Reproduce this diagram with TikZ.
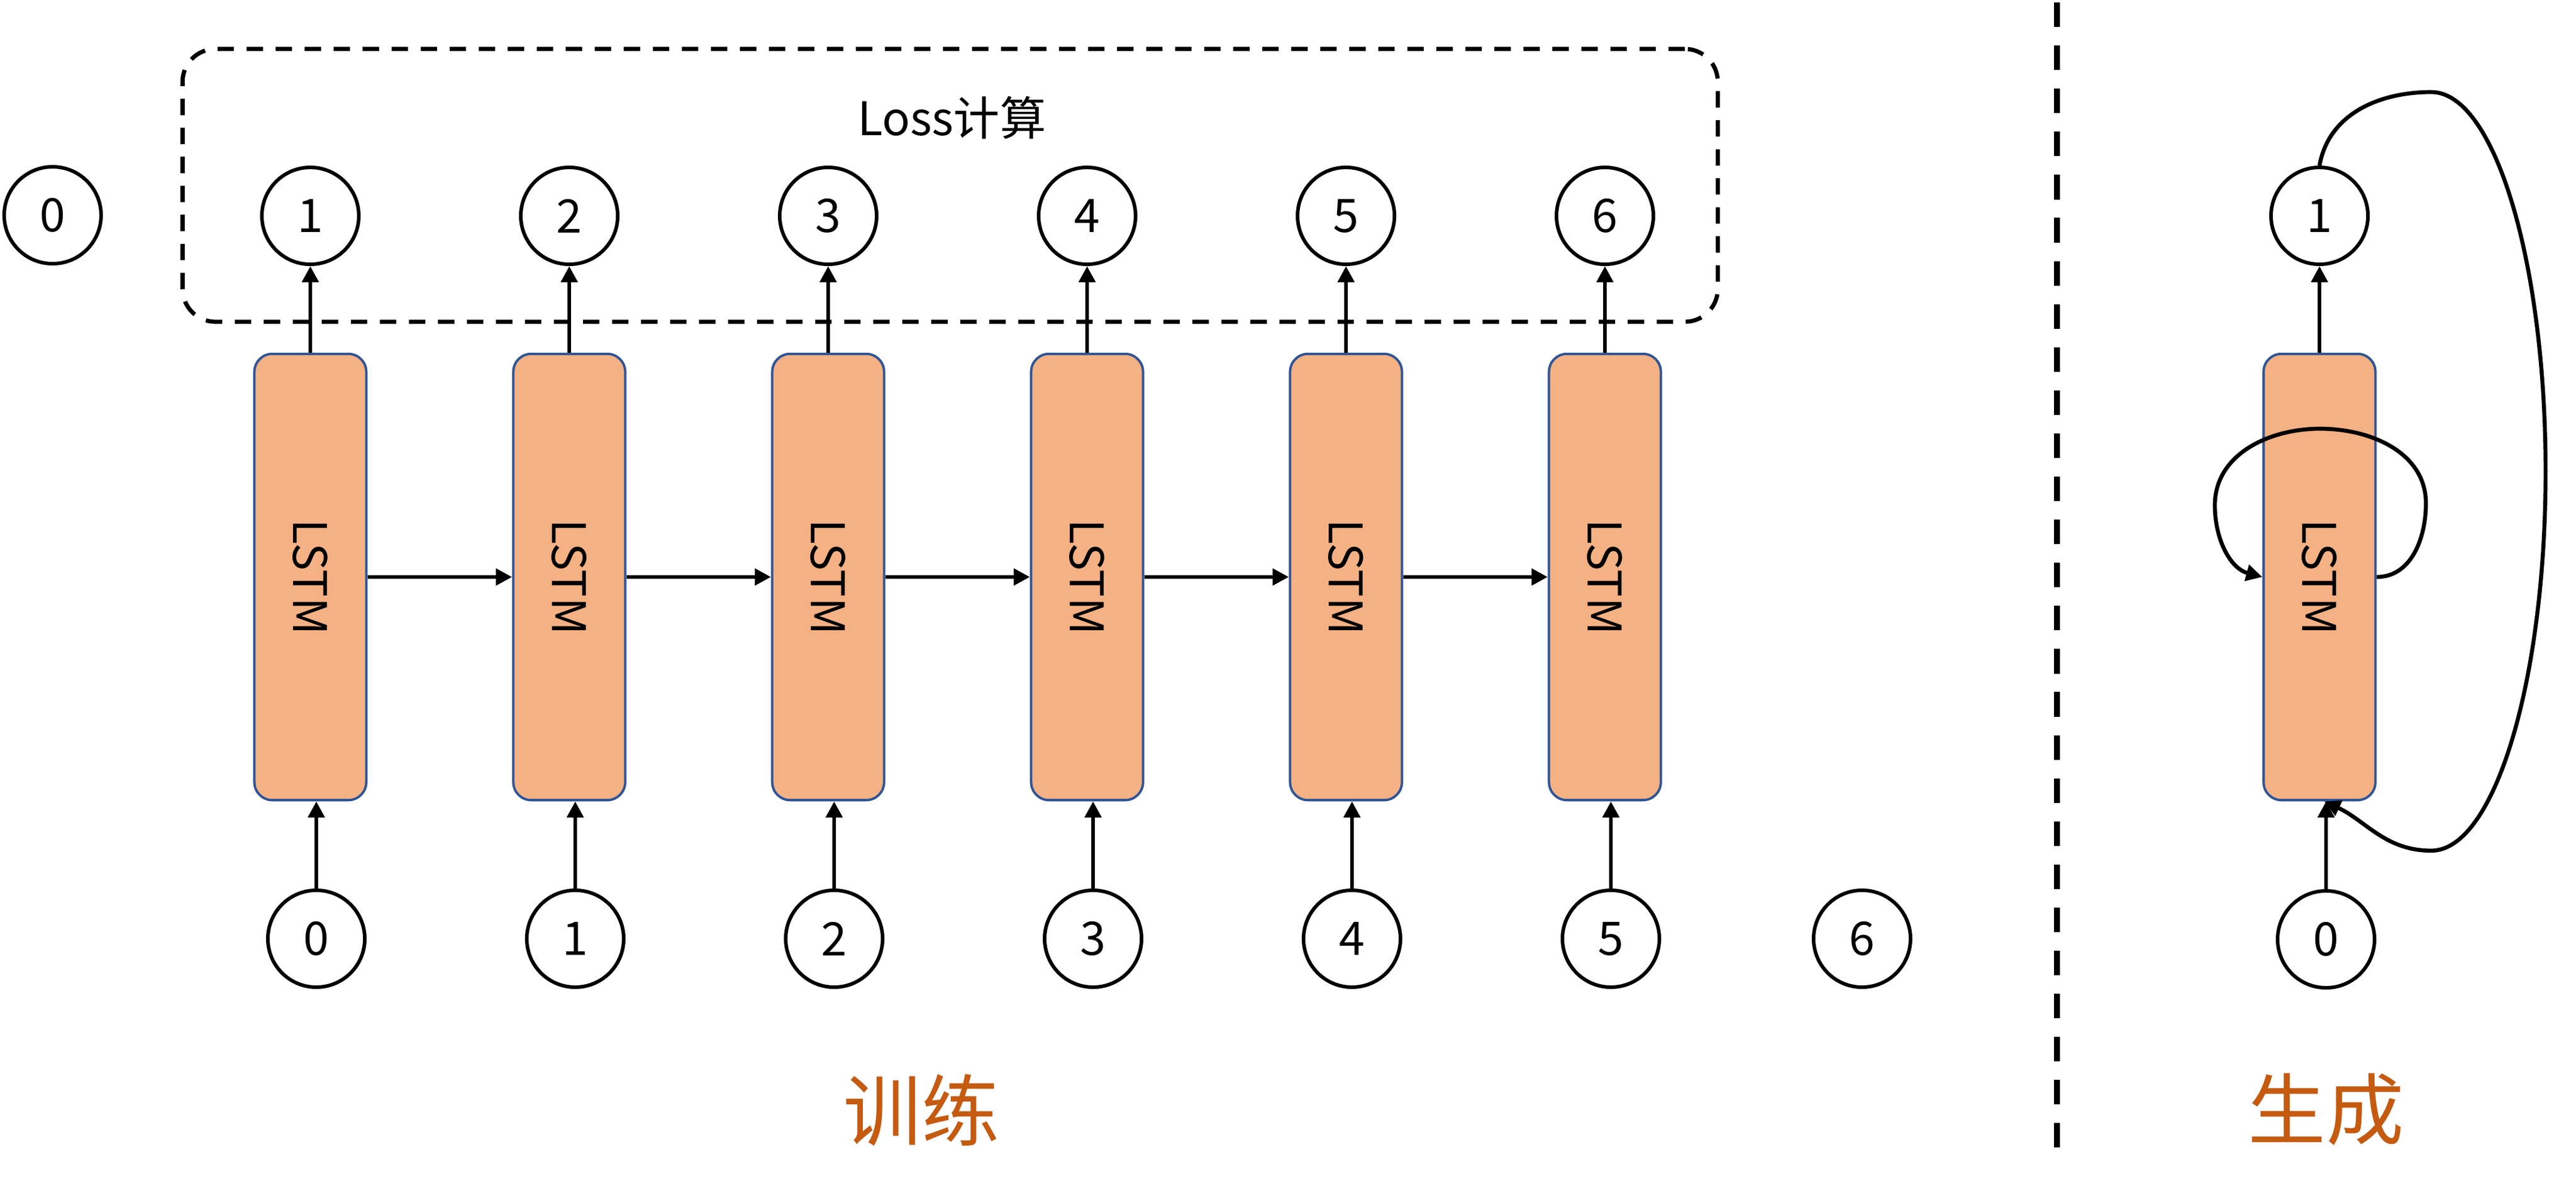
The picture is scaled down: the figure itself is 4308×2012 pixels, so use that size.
\documentclass[tikz,border=0pt]{standalone}
\usepackage{fontspec}
\usepackage{graphicx}
\setmainfont{Noto Sans CJK SC}
\usetikzlibrary{arrows.meta}
\definecolor{lstmfill}{HTML}{F4B183}
\definecolor{lstmline}{HTML}{2F5597}
\definecolor{capcolor}{HTML}{C55A11}
\begin{document}
\begin{tikzpicture}[x=0.01cm,y=0.01cm,
  tok/.style={circle,draw=black,line width=1.7pt,minimum size=1.62cm,inner sep=0pt,font=\fontsize{22}{26}\selectfont},
  lstm/.style={draw=lstmline,fill=lstmfill,line width=1.15pt,rounded corners=0.3cm,minimum width=1.87cm,minimum height=7.46cm,inner sep=0pt,font=\fontsize{22}{26}\selectfont},
  conn/.style={line width=1.9pt,-{Triangle[length=0.27cm,width=0.27cm]}},
  lossframe/.style={draw=black,line width=2pt,dash pattern=on 7.8pt off 6pt,rounded corners=0.55cm,minimum width=25.66cm,minimum height=4.56cm,inner sep=0pt},
  sepline/.style={line width=2.85pt,dash pattern=on 11.7pt off 8.8pt},
  caption/.style={text=capcolor,font=\fontsize{37}{40}\selectfont,inner sep=0pt},
  plaintext/.style={font=\fontsize{22}{26}\selectfont,inner sep=0pt},
]
\useasboundingbox (0,0) rectangle (4308,-2012);

% ---------- training part ----------
\node[lossframe] (lossbox) at (1589,-310) {};
\node[plaintext] (losslabel) at (1592,-197) {Loss计算};

\node[tok] (z0) at (88,-360) {0};

\foreach \i in {1,...,6} {
  \pgfmathsetmacro{\xa}{519+433*(\i-1)}
  \pgfmathsetmacro{\xb}{529+433*(\i-1)}
  \pgfmathtruncatemacro{\j}{\i-1}
  \node[lstm] (L\i) at (\xa,-965) {\rotatebox{-90}{LSTM}};
  \node[tok] (o\i) at (\xa,-361) {\i};
  \node[tok] (in\i) at (\xb,-1570) {\j};
}
\node[tok] (s6) at (3114,-1570) {6};

\foreach \i in {1,...,6} {
  \draw[conn] (L\i.north) -- (o\i.south);
  \draw[conn] (in\i.north) -- (in\i.north |- L\i.south);
}
\foreach \i/\j in {1/2,2/3,3/4,4/5,5/6}
  \draw[conn] (L\i.east) -- (L\j.west);

\node[caption] (train) at (1541,-1857) {训练};

% ---------- separator ----------
\coordinate (septop) at (3440,-4);
\coordinate (sepbot) at (3440,-1919);
\draw[sepline] (septop) -- (sepbot);

% ---------- generation part ----------
\node[lstm] (G) at (3879,-965) {\rotatebox{-90}{LSTM}};
\node[tok] (gout) at (3879,-361) {1};
\node[tok] (gin) at (3890,-1571) {0};
\draw[conn] (G.north) -- (gout.south);
\draw[conn] (gin.north) -- (gin.north |- G.south);

\coordinate (sr) at (4057,-842);
\coordinate (st) at (3880,-717);
\coordinate (sl) at (3704,-845);
\draw[conn] (G.east) to[out=0,in=-90] (sr) to[out=90,in=0] (st)
  to[out=180,in=90] (sl) to[out=-90,in=165] (G.west);

\coordinate (bt) at (4066,-154);
\draw[conn] (gout.north) to[out=80,in=180] (bt)
  arc[start angle=90,end angle=-90,x radius=1.91cm,y radius=6.34cm]
  to[out=180,in=-25] ([xshift=0.08cm]G.south);

\node[caption] (gen) at (3890,-1855) {生成};
\end{tikzpicture}
\end{document}
